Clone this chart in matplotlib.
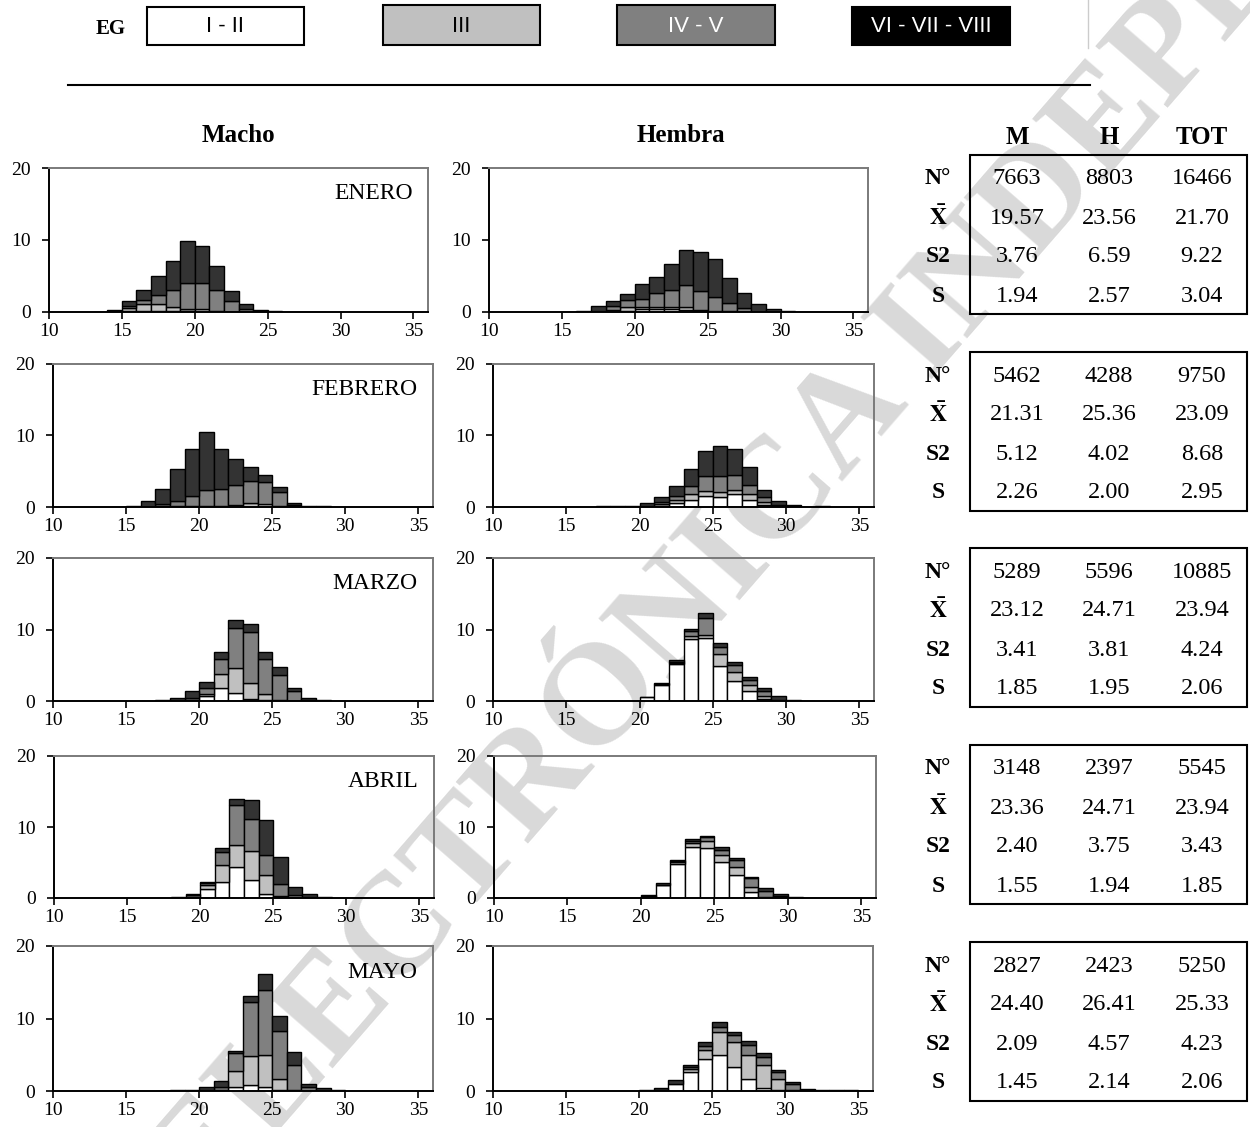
import matplotlib
matplotlib.use("Agg")
import matplotlib.pyplot as plt
import numpy as np
from matplotlib.patches import Rectangle

plt.rcParams["mathtext.fontset"] = "stix"

# ---------------------------------------------------------------- data
# length classes (left edge of each 1-unit bin)
length_bins = list(range(12, 35))

months = ["ENERO", "FEBRERO", "MARZO", "ABRIL", "MAYO"]
stage_labels = ["I - II", "III", "IV - V", "VI - VII - VIII"]

# ENERO
enero_m_I   = [0, 0, 0, 0.1, 0.1, 0.1, 0.1, 0.1, 0.05, 0, 0, 0, 0, 0, 0, 0, 0, 0, 0, 0, 0, 0, 0]
enero_m_III = [0, 0, 0, 0.5, 1.0, 1.0, 0.6, 0.35, 0.3, 0.1, 0.05, 0, 0, 0, 0, 0, 0, 0, 0, 0, 0, 0, 0]
enero_m_IV  = [0, 0, 0, 0.3, 0.5, 1.2, 2.4, 3.55, 3.65, 3.0, 1.45, 0.4, 0, 0, 0, 0, 0, 0, 0, 0, 0, 0, 0]
enero_m_VI  = [0, 0.05, 0.3, 0.6, 1.5, 2.7, 4.0, 5.9, 5.2, 3.3, 1.4, 0.65, 0.25, 0.1, 0.05, 0.05, 0.05, 0, 0, 0, 0, 0, 0]
enero_h_I   = [0, 0, 0, 0, 0, 0, 0.05, 0.2, 0.4, 0.45, 0.4, 0.3, 0.1, 0.05, 0, 0, 0, 0, 0, 0, 0, 0, 0]
enero_h_III = [0, 0, 0, 0, 0, 0, 0.2, 0.5, 0.3, 0.3, 0.3, 0.4, 0.2, 0.1, 0.1, 0, 0, 0, 0, 0, 0, 0, 0]
enero_h_IV  = [0, 0, 0, 0, 0, 0.2, 0.6, 1.0, 1.15, 1.9, 2.35, 3.0, 2.6, 1.95, 1.15, 0.55, 0, 0, 0, 0, 0, 0, 0]
enero_h_VI  = [0, 0, 0, 0.05, 0.1, 0.7, 0.65, 0.8, 2.05, 2.25, 3.6, 4.95, 5.4, 5.25, 3.5, 2.15, 1.15, 0.45, 0.1, 0.05, 0.05, 0, 0]

# FEBRERO
febrero_m_I   = [0, 0, 0, 0, 0, 0, 0, 0, 0.05, 0, 0, 0.05, 0, 0, 0, 0, 0, 0, 0, 0, 0, 0, 0]
febrero_m_III = [0, 0, 0, 0, 0, 0.1, 0.1, 0.1, 0.1, 0.15, 0.3, 0.5, 0.4, 0.1, 0, 0, 0, 0, 0, 0, 0, 0, 0]
febrero_m_IV  = [0, 0, 0, 0, 0, 0.3, 0.7, 1.45, 2.2, 2.3, 2.75, 3.15, 3.1, 2.0, 0.3, 0, 0, 0, 0, 0, 0, 0, 0]
febrero_m_VI  = [0, 0, 0.05, 0.1, 0.8, 2.05, 4.55, 6.6, 8.15, 5.7, 3.6, 1.9, 1.0, 0.65, 0.3, 0.2, 0.1, 0, 0, 0, 0, 0, 0]
febrero_h_I   = [0, 0, 0, 0, 0, 0, 0, 0, 0.1, 0.2, 0.5, 0.95, 1.55, 1.4, 1.75, 0.95, 0.3, 0, 0, 0, 0, 0, 0]
febrero_h_III = [0, 0, 0, 0, 0, 0, 0, 0, 0, 0.2, 0.5, 0.8, 0.65, 0.7, 0.65, 0.9, 0.4, 0.1, 0, 0, 0, 0, 0]
febrero_h_IV  = [0, 0, 0, 0, 0, 0, 0, 0, 0, 0.3, 0.5, 1.15, 2.1, 2.2, 2.1, 1.2, 0.7, 0.2, 0, 0, 0, 0, 0]
febrero_h_VI  = [0, 0, 0, 0.05, 0, 0.1, 0.1, 0.2, 0.5, 0.7, 1.4, 2.35, 3.5, 4.2, 3.55, 2.6, 1.0, 0.55, 0.25, 0.05, 0.15, 0, 0]

# MARZO
marzo_m_I   = [0, 0, 0, 0, 0, 0, 0, 0.1, 0.7, 1.8, 1.15, 0.3, 0.2, 0, 0, 0, 0, 0, 0, 0, 0, 0, 0]
marzo_m_III = [0, 0, 0, 0, 0, 0, 0, 0, 0.3, 2.0, 3.45, 2.25, 0.8, 0.15, 0, 0, 0, 0, 0, 0, 0, 0, 0]
marzo_m_IV  = [0, 0, 0, 0, 0, 0, 0, 0.3, 0.8, 2.1, 5.65, 7.1, 4.9, 3.5, 1.35, 0.15, 0, 0, 0, 0, 0, 0, 0]
marzo_m_VI  = [0.02, 0.02, 0, 0, 0.05, 0.2, 0.4, 1.0, 0.9, 1.0, 1.05, 1.05, 1.0, 1.15, 0.5, 0.3, 0.1, 0, 0, 0, 0, 0, 0]
marzo_h_I   = [0, 0, 0, 0, 0, 0, 0, 0, 0.5, 2.25, 5.15, 8.7, 8.85, 4.85, 2.85, 1.4, 0.25, 0, 0, 0, 0, 0, 0]
marzo_h_III = [0, 0, 0, 0, 0, 0, 0, 0, 0, 0.1, 0.2, 0.4, 0.4, 1.7, 1.2, 0.8, 0.5, 0, 0, 0, 0, 0, 0]
marzo_h_IV  = [0, 0, 0, 0, 0, 0, 0, 0, 0, 0, 0.1, 0.7, 2.3, 1.0, 1.0, 0.7, 0.6, 0.2, 0, 0, 0, 0, 0]
marzo_h_VI  = [0, 0, 0, 0, 0, 0, 0, 0.05, 0.05, 0.2, 0.3, 0.3, 0.75, 0.6, 0.45, 0.5, 0.45, 0.5, 0.2, 0.05, 0, 0, 0]

# ABRIL
abril_m_I   = [0, 0, 0, 0, 0, 0, 0, 0.1, 1.3, 2.25, 4.3, 2.5, 0.6, 0.1, 0, 0, 0, 0, 0, 0, 0, 0, 0]
abril_m_III = [0, 0, 0, 0, 0, 0, 0, 0.1, 0.5, 2.35, 3.2, 4.1, 2.6, 0.25, 0, 0, 0, 0, 0, 0, 0, 0, 0]
abril_m_IV  = [0, 0, 0, 0, 0, 0, 0, 0.2, 0.25, 1.9, 5.55, 4.5, 2.8, 1.65, 0.45, 0.1, 0, 0, 0, 0, 0, 0, 0]
abril_m_VI  = [0, 0, 0, 0, 0, 0.05, 0.1, 0.2, 0.2, 0.6, 0.95, 2.65, 4.95, 3.8, 1.1, 0.4, 0.15, 0, 0, 0, 0, 0, 0]
abril_h_I   = [0, 0, 0, 0, 0, 0, 0, 0, 0.2, 1.8, 4.85, 7.2, 7.1, 5.05, 3.2, 0.85, 0, 0, 0, 0, 0, 0, 0]
abril_h_III = [0, 0, 0, 0, 0, 0, 0, 0, 0.1, 0.1, 0.2, 0.5, 0.9, 0.95, 1.15, 0.7, 0.2, 0, 0, 0, 0, 0, 0]
abril_h_IV  = [0, 0, 0, 0, 0, 0, 0, 0, 0, 0, 0.1, 0.3, 0.6, 0.7, 1.0, 1.2, 0.8, 0.3, 0, 0, 0, 0, 0]
abril_h_VI  = [0, 0, 0, 0, 0, 0, 0.05, 0.05, 0.15, 0.2, 0.25, 0.35, 0.2, 0.5, 0.35, 0.2, 0.45, 0.2, 0.15, 0.05, 0, 0, 0]

# MAYO
mayo_m_I   = [0, 0, 0, 0, 0, 0, 0, 0, 0, 0, 0.55, 0.8, 0.5, 0.1, 0, 0, 0, 0, 0, 0, 0, 0, 0]
mayo_m_III = [0, 0, 0, 0, 0, 0, 0, 0, 0, 0.1, 2.2, 4.05, 4.5, 1.5, 0.1, 0, 0, 0, 0, 0, 0, 0, 0]
mayo_m_IV  = [0, 0, 0, 0, 0, 0, 0, 0, 0.1, 0.5, 2.5, 7.45, 9.0, 6.65, 3.45, 0.5, 0, 0, 0, 0, 0, 0, 0]
mayo_m_VI  = [0, 0, 0, 0, 0, 0.05, 0.1, 0.2, 0.45, 0.8, 0.25, 0.8, 2.1, 2.05, 1.85, 0.5, 0.35, 0.15, 0, 0, 0, 0, 0]
mayo_h_I   = [0, 0, 0, 0, 0, 0, 0, 0, 0, 0.1, 0.9, 2.6, 4.4, 5.0, 3.3, 1.6, 0.4, 0.1, 0, 0, 0, 0, 0]
mayo_h_III = [0, 0, 0, 0, 0, 0, 0, 0, 0, 0, 0, 0.5, 1.2, 3.15, 3.5, 3.4, 3.25, 1.6, 0.2, 0, 0, 0, 0]
mayo_h_IV  = [0, 0, 0, 0, 0, 0, 0, 0, 0, 0, 0, 0.2, 0.6, 0.7, 0.9, 1.3, 1.05, 0.9, 0.8, 0, 0, 0, 0]
mayo_h_VI  = [0, 0, 0, 0, 0, 0, 0, 0, 0.1, 0.3, 0.55, 0.35, 0.6, 0.6, 0.45, 0.55, 0.6, 0.35, 0.25, 0.25, 0.15, 0.2, 0.1]

macho = [
    [enero_m_I, enero_m_III, enero_m_IV, enero_m_VI],
    [febrero_m_I, febrero_m_III, febrero_m_IV, febrero_m_VI],
    [marzo_m_I, marzo_m_III, marzo_m_IV, marzo_m_VI],
    [abril_m_I, abril_m_III, abril_m_IV, abril_m_VI],
    [mayo_m_I, mayo_m_III, mayo_m_IV, mayo_m_VI],
]
hembra = [
    [enero_h_I, enero_h_III, enero_h_IV, enero_h_VI],
    [febrero_h_I, febrero_h_III, febrero_h_IV, febrero_h_VI],
    [marzo_h_I, marzo_h_III, marzo_h_IV, marzo_h_VI],
    [abril_h_I, abril_h_III, abril_h_IV, abril_h_VI],
    [mayo_h_I, mayo_h_III, mayo_h_IV, mayo_h_VI],
]

# summary statistics per month: M, H, TOT
stat_rows = ["N°", r"$\mathbf{\bar{X}}$", "S2", "S"]
stat_cols = ["M", "H", "TOT"]
n_obs = [[7663, 8803, 16466], [5462, 4288, 9750], [5289, 5596, 10885],
         [3148, 2397, 5545], [2827, 2423, 5250]]
mean_len = [[19.57, 23.56, 21.70], [21.31, 25.36, 23.09], [23.12, 24.71, 23.94],
            [23.36, 24.71, 23.94], [24.40, 26.41, 25.33]]
var_len = [[3.76, 6.59, 9.22], [5.12, 4.02, 8.68], [3.41, 3.81, 4.24],
           [2.40, 3.75, 3.43], [2.09, 4.57, 4.23]]
sd_len = [[1.94, 2.57, 3.04], [2.26, 2.00, 2.95], [1.85, 1.95, 2.06],
          [1.55, 1.94, 1.85], [1.45, 2.14, 2.06]]

x_ticks = [10, 15, 20, 25, 30, 35]
y_ticks = [0, 10, 20]

# ---------------------------------------------------------------- style
bar_colors = ["#ffffff", "#c0c0c0", "#808080", "#333333"]
legend_colors = ["#ffffff", "#c0c0c0", "#808080", "#000000"]
legend_text_colors = ["black", "black", "white", "white"]
SERIF = "Liberation Serif"
NARROW = ["Liberation Sans Narrow", "Liberation Sans", "DejaVu Sans"]

W, H = 1250, 1127
fig = plt.figure(figsize=(W / 100, H / 100), dpi=100)

# full-figure layer in pixel coordinates for decorations and the table
bg = fig.add_axes([0, 0, 1, 1], zorder=0)
bg.set_xlim(0, W)
bg.set_ylim(H, 0)
bg.axis("off")


def frac(l, t, r, b):
    return [l / W, 1 - b / H, (r - l) / W, (b - t) / H]


# watermark
bg.text(205, 1215, "ELECTRÓNICA INDEPENDIENTE", rotation=49, rotation_mode="anchor",
        ha="left", va="baseline", fontsize=104, family=SERIF, weight="bold",
        color="#d9d9d9", zorder=0)

# legend strip
bg.text(111, 29, "EG", family=SERIF, weight="bold", fontsize=15, ha="center",
        va="center", zorder=3)
legend_boxes = [(147, 7, 304, 45), (383, 5, 540, 45), (617, 5, 775, 45), (852, 7, 1010, 45)]
for (l, t, r, b), fc, tc, lab in zip(legend_boxes, legend_colors, legend_text_colors, stage_labels):
    bg.add_patch(Rectangle((l, t), r - l, b - t, facecolor=fc, edgecolor="black",
                           lw=1.5, zorder=3))
    bg.text((l + r) / 2, (t + b) / 2 + 1, lab, family=NARROW, fontsize=16, color=tc,
            ha="center", va="center", zorder=4)
bg.plot([1088, 1088], [0, 48], color="#cccccc", lw=1, zorder=3)

# separator line
bg.plot([68, 1090], [85, 85], color="black", lw=1.5, zorder=3)

# column headers
bg.text(238, 136, "Macho", family=SERIF, weight="bold", fontsize=18, ha="center",
        va="center", zorder=3)
bg.text(681, 136, "Hembra", family=SERIF, weight="bold", fontsize=18, ha="center",
        va="center", zorder=3)

# ---------------------------------------------------------------- histograms
row_tb = [(168, 312), (364, 507), (558, 701), (756, 898), (946, 1091)]
macho_lr = [(49, 428), (53, 433), (53, 433), (54, 434), (53, 433)]
hembra_lr = [(489, 868), (493, 874), (493, 874), (494, 876), (493, 873)]


def draw_panel(ax, layers):
    bins = np.array(length_bins)
    bottom = np.zeros(len(bins))
    for vals, col in zip(layers, bar_colors):
        v = np.array(vals, dtype=float)
        keep = v > 0
        ax.bar(bins[keep], v[keep], width=1.0, bottom=bottom[keep], align="edge",
               color=col, edgecolor="black", linewidth=1.0, zorder=2)
        bottom += v
    ax.set_xlim(10, 36)
    ax.set_ylim(0, 20)
    ax.set_xticks(x_ticks)
    ax.set_yticks(y_ticks)
    ax.set_facecolor("none")
    for side in ("left", "bottom"):
        ax.spines[side].set_color("black")
        ax.spines[side].set_linewidth(1.4)
    for side in ("top", "right"):
        ax.spines[side].set_color("#7a7a7a")
        ax.spines[side].set_linewidth(1.4)
    ax.tick_params(direction="out", length=5, width=1.2, pad=3, labelsize=14)
    ax.tick_params(axis="y", pad=8)
    for lab in ax.get_xticklabels() + ax.get_yticklabels():
        lab.set_family(SERIF)


for i, month in enumerate(months):
    t, b = row_tb[i]
    l, r = macho_lr[i]
    axm = fig.add_axes(frac(l, t, r, b), zorder=2)
    draw_panel(axm, macho[i])
    axm.text(0.96, 0.82, month, transform=axm.transAxes, ha="right", va="center",
             family=SERIF, fontsize=17)
    l, r = hembra_lr[i]
    axh = fig.add_axes(frac(l, t, r, b), zorder=2)
    draw_panel(axh, hembra[i])

# ---------------------------------------------------------------- statistics table
col_x = [1017, 1109, 1202]
for x, lab in zip(col_x, stat_cols):
    bg.text(x, 138, lab, family=SERIF, weight="bold", fontsize=18, ha="center",
            va="center", zorder=3)

box_tops = [155, 352, 548, 745, 942]
row_off = [24, 63, 102, 141]
for i in range(len(months)):
    top = box_tops[i]
    bg.add_patch(Rectangle((970, top), 277, 159, facecolor="none", edgecolor="black",
                           lw=1.5, zorder=3))
    values = [
        [f"{v}" for v in n_obs[i]],
        [f"{v:.2f}" for v in mean_len[i]],
        [f"{v:.2f}" for v in var_len[i]],
        [f"{v:.2f}" for v in sd_len[i]],
    ]
    for j, (rl, row_vals) in enumerate(zip(stat_rows, values)):
        y = top + row_off[j]
        bg.text(938, y, rl, family=SERIF, weight="bold", fontsize=17, ha="center",
                va="center", zorder=3)
        for x, v in zip(col_x, row_vals):
            bg.text(x, y, v, family=SERIF, fontsize=17.5, ha="center", va="center",
                    zorder=3)

fig.savefig("out.png", dpi=100)
